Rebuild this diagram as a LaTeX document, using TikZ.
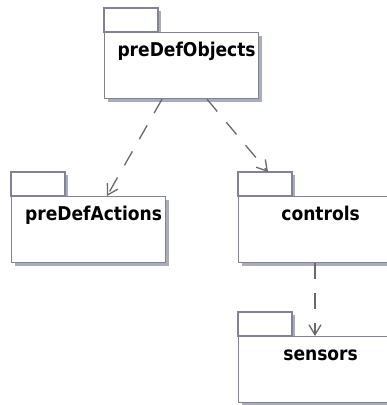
\documentclass[tikz,border=0pt]{standalone}
\usepackage{fontspec}
\setmainfont{DejaVu Sans Condensed}
\usetikzlibrary{calc}
\usetikzlibrary{positioning}
\usetikzlibrary{arrows.meta}
\usetikzlibrary{shadows}
\definecolor{pkgline}{RGB}{130,132,150}
\definecolor{pkgshade}{RGB}{170,172,185}
\definecolor{depline}{RGB}{105,105,105}
\tikzset{pkg/.style = {shape=rectangle,draw=pkgline,line width=1.2pt,fill=white,
    anchor=north west,minimum width=154pt,inner xsep=0pt,inner ysep=0pt,
    text height=24pt,text depth=42pt,font=\fontsize{19}{22}\selectfont\bfseries,
    execute at begin node={\hspace*{10pt}},
    drop shadow={shadow xshift=3pt,shadow yshift=-3pt,fill=pkgshade,opacity=1}}}
\tikzset{tab/.style = {draw=pkgline,line width=1.2pt,fill=white}}
\tikzset{dep/.style = {draw=depline,line width=1.3pt,dash pattern=on 16pt off 14pt,
    -{Straight Barb[length=10pt,width=12pt]}}}

\begin{document}
\begin{tikzpicture}[x=1pt,y=-1pt]
    \useasboundingbox (0,0) rectangle (387,405);

    % Packages
    \node[pkg] (objects) at (104,32) {preDefObjects};
    \node[pkg] (actions) at (11,196) {preDefActions};
    \node[pkg] (controls) at (238,196) {controls};
    \node[pkg] (sensors) at (238,336) {sensors};

    % Tabs
    \foreach \p in {objects,actions,controls,sensors} {
        \fill[pkgshade] ($(\p.north west)+(54,-21)$) rectangle ++(3,21);
        \draw[tab] ($(\p.north west)+(0,-24)$) rectangle ++(54,24);
    }

    % Dependencies
    \draw[dep] ($(objects.south west)+(58,0)$) -- ($(actions.north west)+(96,0)$);
    \draw[dep] ($(objects.south west)+(103,0)$) -- ($(controls.north west)+(30,-24)$);
    \draw[dep] ($(controls.south west)+(77,0)$) -- ($(sensors.north west)+(77,0)$);
\end{tikzpicture}
\end{document}
